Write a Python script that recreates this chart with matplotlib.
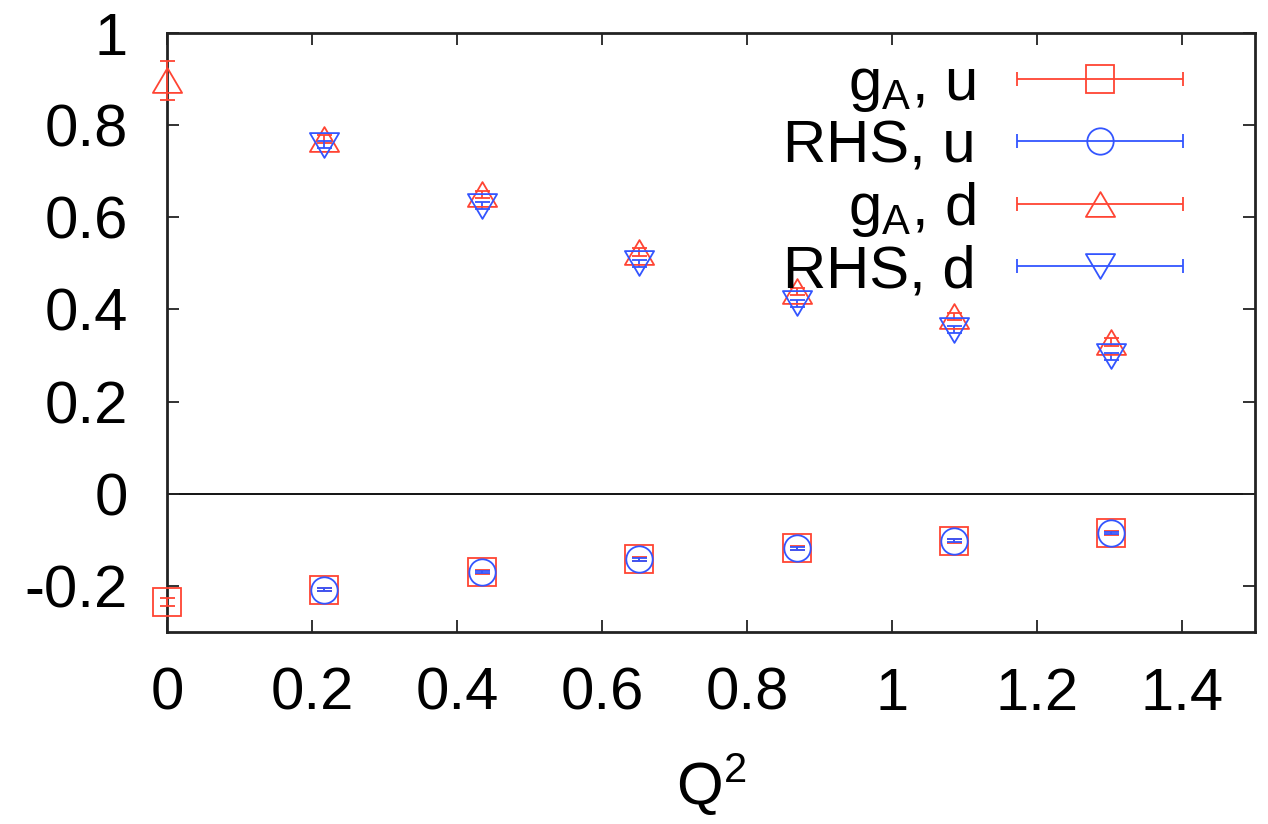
import numpy as np
import matplotlib
matplotlib.use("Agg")
import matplotlib.pyplot as plt
from matplotlib.path import Path
from matplotlib.lines import Line2D
from matplotlib.collections import LineCollection
from matplotlib.container import ErrorbarContainer
from matplotlib.legend_handler import HandlerErrorbar

plt.rcParams['font.family'] = ['Liberation Sans', 'DejaVu Sans']
plt.rcParams['mathtext.fontset'] = 'custom'
plt.rcParams['mathtext.rm'] = 'Liberation Sans'
plt.rcParams['mathtext.it'] = 'Liberation Sans:italic'
plt.rcParams['mathtext.bf'] = 'Liberation Sans:bold'

# ---------------- data ----------------
q2 = [0.0, 0.217, 0.434, 0.651, 0.868, 1.085, 1.302]
q2_rhs = [0.217, 0.434, 0.651, 0.868, 1.085, 1.302]

gA_u = [-0.235, -0.208, -0.170, -0.142, -0.118, -0.102, -0.085]
gA_u_err = [0.008, 0.004, 0.004, 0.004, 0.004, 0.004, 0.004]
rhs_u = [-0.208, -0.170, -0.142, -0.118, -0.102, -0.085]
rhs_u_err = [0.003, 0.003, 0.003, 0.003, 0.003, 0.003]

gA_d = [0.897, 0.770, 0.650, 0.525, 0.439, 0.385, 0.329]
gA_d_err = [0.042, 0.008, 0.008, 0.008, 0.008, 0.008, 0.008]
rhs_d = [0.758, 0.625, 0.500, 0.413, 0.356, 0.298]
rhs_d_err = [0.008, 0.008, 0.008, 0.008, 0.008, 0.008]

labels = [r'g$_{\mathregular{A}}$, u', 'RHS, u', r'g$_{\mathregular{A}}$, d', 'RHS, d']
xticks = [0, 0.2, 0.4, 0.6, 0.8, 1.0, 1.2, 1.4]
xticklabels = ['0', '0.2', '0.4', '0.6', '0.8', '1', '1.2', '1.4']
yticks = [-0.2, 0, 0.2, 0.4, 0.6, 0.8, 1.0]
yticklabels = ['-0.2', '0', '0.2', '0.4', '0.6', '0.8', '1']

# ---------------- style ----------------
RED = '#ff4433'
BLUE = '#3355ff'
FS = 43
MEW = 1.3
ELW = 1.3
CAP = 5.4

tri_up = Path([(0, 0.85), (-1, -0.85), (1, -0.85), (0, 0.85)],
              [Path.MOVETO, Path.LINETO, Path.LINETO, Path.CLOSEPOLY])
tri_dn = Path([(0, -0.85), (-1, 0.85), (1, 0.85), (0, -0.85)],
              [Path.MOVETO, Path.LINETO, Path.LINETO, Path.CLOSEPOLY])

series = [
    (q2, gA_u, gA_u_err, RED, 's', 20),
    (q2_rhs, rhs_u, rhs_u_err, BLUE, 'o', 19),
    (q2, gA_d, gA_d_err, RED, tri_up, 21),
    (q2_rhs, rhs_d, rhs_d_err, BLUE, tri_dn, 21),
]

fig = plt.figure(figsize=(12.68, 8.24), dpi=100)
ax = fig.add_axes([167 / 1268, 1 - 632 / 824, 1088 / 1268, 599 / 824])

ax.axhline(0, color='black', lw=1.3, zorder=1)

handles = []
for xs, ys, es, col, mk, ms in series:
    ax.errorbar(xs, ys, yerr=es, fmt='none', ecolor=col, elinewidth=ELW,
                capsize=CAP, capthick=ELW, zorder=3, clip_on=False)
    ax.plot(xs, ys, linestyle='none', marker=mk, ms=ms, mfc='none',
            mec=col, mew=MEW, zorder=4, clip_on=False)
    # legend proxy: horizontal bar with end caps and centred marker
    line = Line2D([], [], linestyle='none', marker=mk, ms=ms, mfc='none',
                  mec=col, mew=MEW)
    cap = Line2D([], [], linestyle='none', marker='|', ms=10, mec=col,
                 mew=ELW, color=col)
    lc = LineCollection([], colors=col, linewidths=ELW)
    handles.append(ErrorbarContainer((line, (cap, cap), (lc,)),
                                     has_xerr=True, has_yerr=False))

ax.set_xlim(0, 1.5)
ax.set_ylim(-0.3, 1.0)
ax.set_xticks(xticks)
ax.set_xticklabels(xticklabels)
ax.set_yticks(yticks)
ax.set_yticklabels(yticklabels)
ax.minorticks_off()

for sp in ax.spines.values():
    sp.set_linewidth(2.0)
    sp.set_color('#222222')

ax.tick_params(axis='both', which='major', direction='in', length=8.6,
               width=1.3, top=True, right=True, labelsize=FS, color='#222222')
ax.tick_params(axis='x', pad=25)
ax.tick_params(axis='y', pad=28)

ax.set_xlabel(r'Q$^{\mathregular{2}}$', fontsize=FS)
ax.xaxis.set_label_coords(0.5, -0.2)
ax.xaxis.label.set_va('top')

HL = 2.78
leg = ax.legend(handles, labels, loc='upper right',
                bbox_to_anchor=(0.934, 0.96), borderaxespad=0, borderpad=0,
                frameon=False, markerfirst=False, numpoints=1,
                handlelength=HL, handletextpad=0.7, labelspacing=0.09,
                fontsize=FS,
                handler_map={ErrorbarContainer: HandlerErrorbar(xerr_size=HL / 2)})

fig.savefig('out.png', dpi=100)
